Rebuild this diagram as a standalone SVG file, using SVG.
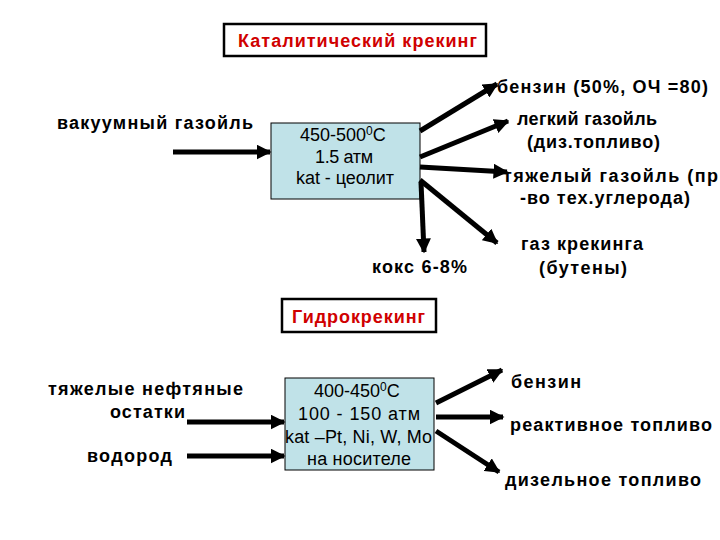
<svg xmlns="http://www.w3.org/2000/svg" width="720" height="540" viewBox="0 0 720 540">
<defs>
<marker id="ah" viewBox="0 0 10 10" refX="9" refY="5" markerWidth="3" markerHeight="3" markerUnits="strokeWidth" orient="auto">
<path d="M0,0 L10,5 L0,10 z" fill="#000"/>
</marker>
<style>
.t{font-family:"Liberation Sans",Arial,sans-serif;font-weight:bold;font-size:18px;fill:#000}
.r{font-family:"Liberation Sans",Arial,sans-serif;font-size:18px;fill:#000}
.h{font-family:"Liberation Sans",Arial,sans-serif;font-weight:bold;font-size:18px;fill:#d00000}
.tb{fill:#fff;stroke:#000;stroke-width:2.5}
.bx{fill:#c0e2e8;stroke:#000;stroke-width:1}
.c line{stroke:#000;stroke-width:5;marker-end:url(#ah)}
</style>
</defs>
<rect width="720" height="540" fill="#fff"/>
<g id="title-cat">
<rect class="tb" x="224" y="24" width="262" height="32"/>
<text class="h" x="238" y="47" textLength="239">Каталитический крекинг</text>
</g>
<g id="reactor-cat">
<rect class="bx" x="271" y="123" width="149" height="76"/>
<text class="r" x="300" y="141">450-500<tspan dy="-6" font-size="12">0</tspan><tspan dy="6">C</tspan></text>
<text class="r" x="315" y="163" textLength="58">1.5 атм</text>
<text class="r" x="296" y="184" textLength="98">kat - цеолит</text>
</g>
<g id="in-vac"><text class="t" x="57" y="129" textLength="196">вакуумный газойль</text></g>
<g id="out-benzin"><text class="t" x="497" y="93" textLength="211">бензин (50%, ОЧ =80)</text></g>
<g id="out-light"><text class="t" x="517" y="125" textLength="140">легкий газойль</text><text class="t" x="527" y="148" textLength="133">(диз.топливо)</text></g>
<g id="out-heavy"><text class="t" x="503" y="182" textLength="215">тяжелый газойль (пр</text><text class="t" x="520" y="204" textLength="170">-во тех.углерода)</text></g>
<g id="out-gas"><text class="t" x="521" y="250" textLength="122">газ крекинга</text><text class="t" x="539" y="274" textLength="88">(бутены)</text></g>
<g id="out-coke"><text class="t" x="372" y="273" textLength="95">кокс 6-8%</text></g>

<g id="title-hydro">
<rect class="tb" x="282" y="299" width="154" height="33"/>
<text class="h" x="292" y="323" textLength="133">Гидрокрекинг</text>
</g>
<g id="reactor-hydro">
<rect class="bx" x="285" y="378" width="149" height="92"/>
<text class="r" x="314" y="397">400-450<tspan dy="-6" font-size="12">0</tspan><tspan dy="6">C</tspan></text>
<text class="r" x="298" y="420" textLength="122">100 - 150 атм</text>
<text class="r" x="285" y="443" textLength="147">kat –Pt, Ni, W, Mo</text>
<text class="r" x="307" y="465" textLength="104">на носителе</text>
</g>
<g id="in-resid"><text class="t" x="48" y="395" textLength="195">тяжелые нефтяные</text><text class="t" x="110" y="418" textLength="75">остатки</text></g>
<g id="in-h2"><text class="t" x="87" y="462" textLength="85">водород</text></g>
<g id="out-h-benzin"><text class="t" x="511" y="388" textLength="70">бензин</text></g>
<g id="out-jet"><text class="t" x="510" y="431" textLength="202">реактивное топливо</text></g>
<g id="out-diesel"><text class="t" x="505" y="486" textLength="196">дизельное топливо</text></g>

<g id="connectors" class="c">
<line x1="173" y1="152" x2="270" y2="152"/>
<line x1="420" y1="131" x2="497" y2="84"/>
<line x1="420" y1="157" x2="508" y2="121"/>
<line x1="420" y1="167" x2="507" y2="172"/>
<line x1="420" y1="180" x2="497" y2="243"/>
<line x1="421" y1="182" x2="424" y2="252"/>
<line x1="187" y1="422" x2="284" y2="422"/>
<line x1="187" y1="456" x2="284" y2="456"/>
<line x1="436" y1="403" x2="502" y2="370"/>
<line x1="436" y1="417" x2="503" y2="417"/>
<line x1="436" y1="431" x2="499" y2="472"/>
</g>
</svg>
